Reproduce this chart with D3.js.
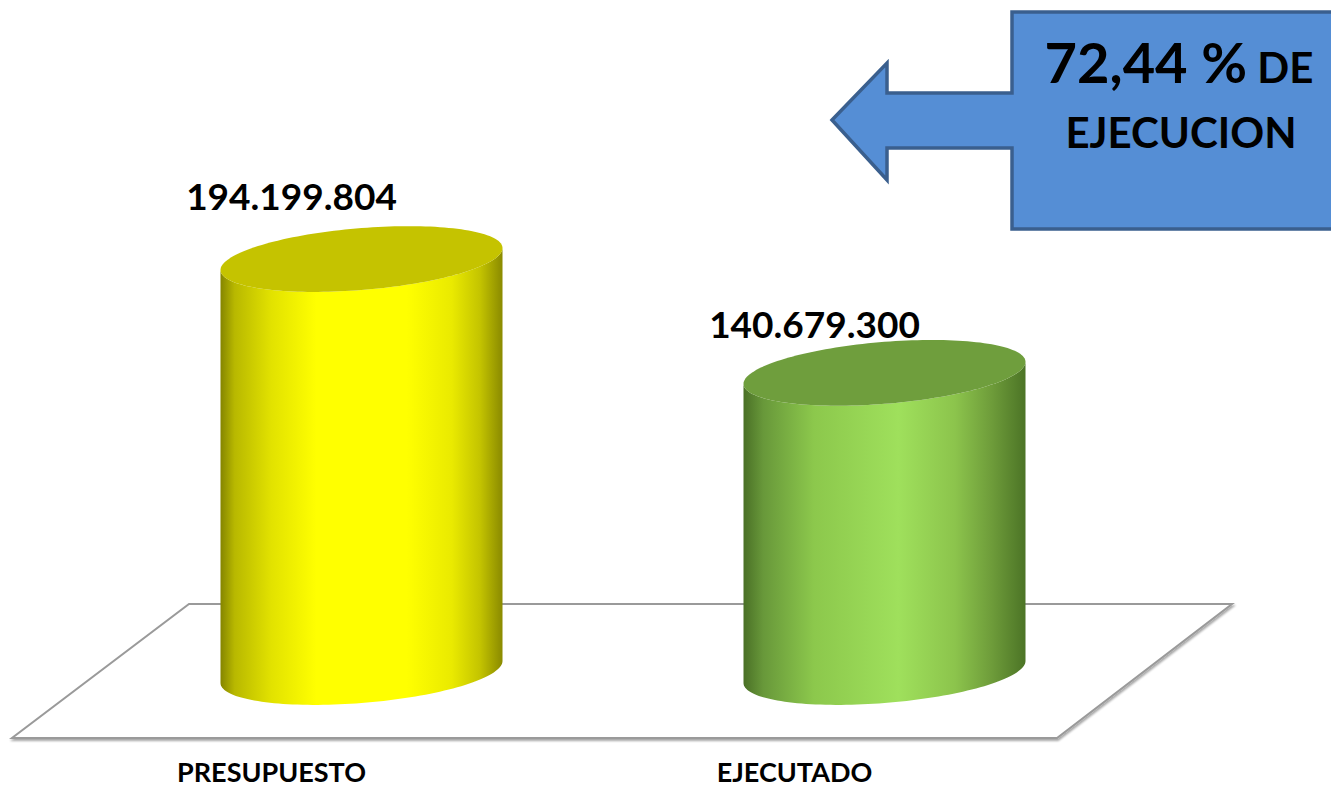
<!DOCTYPE html>
<html>
<head>
<meta charset="utf-8">
<script src="https://cdnjs.cloudflare.com/ajax/libs/d3/7.8.5/d3.min.js"></script>
<style>
  html, body { margin: 0; padding: 0; background: #ffffff; }
  svg { display: block; }
  text { font-family: "Lato", "Open Sans", "Liberation Sans", sans-serif; font-weight: 700; fill: #000; }
</style>
</head>
<body>
<svg id="chart" width="1331" height="789"></svg>
<script>
// ---- data ----
const categories = ["PRESUPUESTO", "EJECUTADO"];
const values = [194199804, 140679300];
const valueLabels = ["194.199.804", "140.679.300"];
const calloutMain = "72,44 %";
const calloutSmall = " DE";
const calloutLine2 = "EJECUCION";

const W = 1331, H = 789;
const svg = d3.select("#chart");

// scales
const x = d3.scaleBand().domain(categories).range([100, 1146])
  .paddingInner(0.4608).paddingOuter(0.2304);
const y = d3.scaleLinear().domain([0, 200e6]).range([672, 246.7]);

// gradients
const defs = svg.append("defs");
const grads = [
  { id: "gY", stops: [[0, "#858500"], [0.05, "#b8b800"], [0.18, "#e2e200"], [0.34, "#ffff00"], [0.66, "#ffff00"], [0.82, "#eaea00"], [0.92, "#c4c400"], [1, "#8a8a00"]] },
  { id: "gG", stops: [[0, "#4a7026"], [0.07, "#68983a"], [0.25, "#8cc84c"], [0.55, "#9fe05c"], [0.75, "#8cc44c"], [0.88, "#6e9c3a"], [1, "#4c7426"]] }
];
grads.forEach(g => {
  const lg = defs.append("linearGradient").attr("id", g.id)
    .attr("x1", 0).attr("x2", 1).attr("y1", 0).attr("y2", 0);
  g.stops.forEach(s => lg.append("stop").attr("offset", s[0]).attr("stop-color", s[1]));
});
const bodyFill = ["url(#gY)", "url(#gG)"];
const topFill = ["#c5c300", "#6f9e3d"];

// floor shadow filter
const f = defs.append("filter").attr("id", "sh").attr("x", "-5%").attr("y", "-5%").attr("width", "110%").attr("height", "120%");
f.append("feGaussianBlur").attr("in", "SourceAlpha").attr("stdDeviation", 1);
f.append("feOffset").attr("dx", 1).attr("dy", 1.5).attr("result", "ob");
f.append("feComponentTransfer").append("feFuncA").attr("type", "linear").attr("slope", 0.35);
const fm = f.append("feMerge");
fm.append("feMergeNode");
fm.append("feMergeNode").attr("in", "SourceGraphic");

// floor (plot area base)
const floorPts = [[189, 604], [1232, 604], [1057, 738], [12, 738]];
svg.append("polygon")
  .attr("points", floorPts.map(p => p.join(",")).join(" "))
  .attr("fill", "#ffffff").attr("stroke", "#9a9a9a").attr("stroke-width", 2)
  .attr("filter", "url(#sh)");

// cylinders
const shear = 11, b = 31;
const line = d3.line();
function ellPt(cx, cy, a, t) {
  return [cx + a * Math.cos(t), cy + b * Math.sin(t) - shear * Math.cos(t)];
}
function arc(cx, cy, a, t0, t1, n) {
  const pts = [];
  for (let i = 0; i <= n; i++) pts.push(ellPt(cx, cy, a, t0 + (t1 - t0) * i / n));
  return pts;
}

const g = svg.append("g");
categories.forEach((c, i) => {
  const a = x.bandwidth() / 2;
  const cx = x(c) + a;
  const yb = y(0), yt = y(values[i]);
  // body
  const body = [[cx - a, yt + shear]]
    .concat(arc(cx, yb, a, Math.PI, 0, 80))
    .concat(arc(cx, yt, a, 0, Math.PI, 80));
  g.append("path").attr("d", line(body) + "Z").attr("fill", bodyFill[i]);
  // top
  g.append("path").attr("d", line(arc(cx, yt, a, 0, 2 * Math.PI, 160)) + "Z")
    .attr("fill", topFill[i]);
  // value label
  g.append("text")
    .attr("x", cx - 70).attr("y", y(values[i] * 1.118))
    .attr("text-anchor", "middle").attr("font-size", 37)
    .text(valueLabels[i]);
  // category label
  svg.append("text")
    .attr("x", cx - 90).attr("y", 782)
    .attr("text-anchor", "middle").attr("font-size", 27)
    .text(c);
});

// callout (left arrow)
const callout = [[832, 120], [887, 63], [887, 93], [1012, 93], [1012, 12], [1340, 12], [1340, 229],
  [1012, 229], [1012, 148], [887, 148], [887, 180]];
svg.append("polygon")
  .attr("points", callout.map(p => p.join(",")).join(" "))
  .attr("fill", "#558ed5").attr("stroke", "#3a5f8e").attr("stroke-width", 3.5)
  .attr("stroke-linejoin", "miter");

const t1 = svg.append("text").attr("x", 1179).attr("y", 83).attr("text-anchor", "middle");
t1.append("tspan").attr("font-size", 56).text(calloutMain);
t1.append("tspan").attr("font-size", 42).text(calloutSmall);
svg.append("text").attr("x", 1181).attr("y", 148).attr("text-anchor", "middle")
  .attr("font-size", 42).text(calloutLine2);
</script>
</body>
</html>
